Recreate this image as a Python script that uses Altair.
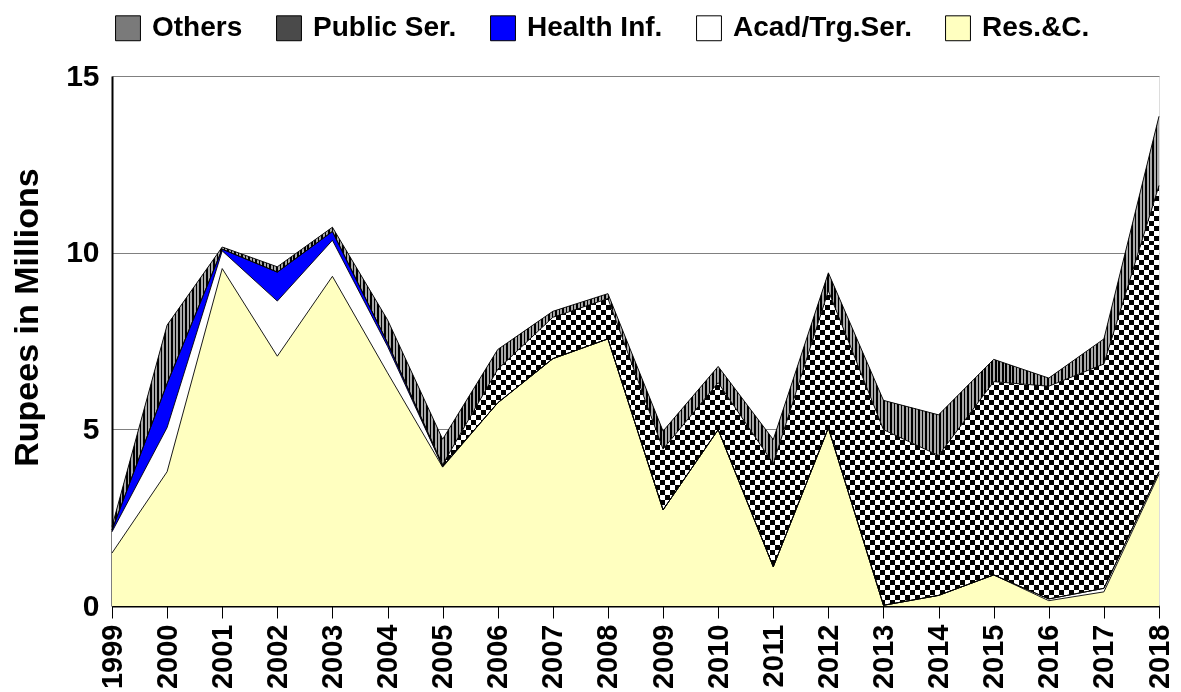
import altair as alt
import pandas as pd

years = list(range(1999, 2019))
series_names = ["Others", "Public Ser.", "Health Inf.", "Acad/Trg.Ser.", "Res.&C."]
res_c = [1.5, 3.8, 9.55, 7.07, 9.33, 6.6, 3.93, 5.75, 7.0, 7.56, 2.72, 4.99, 1.11, 5.04, 0.02, 0.3, 0.88, 0.15, 0.4, 3.73]
acad = [0.6, 1.25, 0.5, 1.56, 1.02, 0.75, 0.02, 0, 0, 0, 0, 0, 0, 0, 0, 0, 0, 0.05, 0.1, 0.07]
health = [0.05, 1.25, 0.05, 0.82, 0.25, 0.1, 0, 0, 0, 0, 0, 0, 0, 0, 0, 0, 0, 0, 0, 0]
public = [0, 0, 0, 0, 0, 0, 0.05, 0.95, 1.17, 1.14, 1.72, 1.33, 2.92, 3.88, 4.97, 3.96, 5.47, 6.02, 6.35, 8.1]
others = [0.1, 1.65, 0.06, 0.15, 0.12, 0.65, 0.72, 0.56, 0.17, 0.14, 0.51, 0.46, 0.68, 0.51, 0.83, 1.15, 0.63, 0.23, 0.71, 1.96]
y_ticks = [0, 5, 10, 15]

stack_values = {"Res.&C.": res_c, "Acad/Trg.Ser.": acad, "Health Inf.": health,
                "Public Ser.": public, "Others": others}
stack_order = ["Res.&C.", "Acad/Trg.Ser.", "Health Inf.", "Public Ser.", "Others"]

rows = []
for k, name in enumerate(stack_order):
    for y, v in zip(years, stack_values[name]):
        rows.append({"year": y, "series": name, "value": v, "order": k})
df = pd.DataFrame(rows)

FONT = "Liberation Sans"


def stripes(c1, c2, n, frac, horizontal):
    stops = []
    for i in range(n):
        a = round(i / n, 6)
        m = round((i + frac) / n, 6)
        b = round((i + 1) / n, 6)
        stops += [{"offset": a, "color": c1}, {"offset": m, "color": c1},
                  {"offset": m, "color": c2}, {"offset": b, "color": c2}]
    return {"gradient": "linear", "stops": stops, "x1": 0, "y1": 0,
            "x2": 1 if horizontal else 0, "y2": 0 if horizontal else 1}


base = alt.Chart(df).transform_stack(
    stack="value", groupby=["year"], as_=["y0", "y1"],
    sort=[alt.SortField("order", "ascending")]
)

x_enc = alt.X("year:O", scale=alt.Scale(padding=0), title=None,
              axis=alt.Axis(labelAngle=-90, labelFont=FONT, labelFontWeight="bold",
                            labelFontSize=29, labelColor="black", labelPadding=6,
                            tickSize=12, tickColor="black", tickWidth=1,
                            domainColor="black", domainWidth=2, grid=False,
                            labelAlign="right", labelBaseline="middle"))
y_enc = alt.Y("y1:Q", scale=alt.Scale(domain=[0, 15], nice=False, zero=True),
              title="Rupees in Millions",
              axis=alt.Axis(values=y_ticks, labelFont=FONT, labelFontWeight="bold",
                            labelFontSize=30, labelColor="black", labelPadding=13,
                            ticks=False, domainColor="black", domainWidth=2,
                            grid=True, gridColor="#808080", gridWidth=1,
                            titleFont=FONT, titleFontWeight="bold", titleFontSize=34,
                            titleColor="black", titlePadding=21, titleY=241))

areas = base.mark_area(opacity=1, stroke=None).encode(
    x=x_enc, y=y_enc, y2="y0:Q",
    color=alt.Color("series:N",
                    scale=alt.Scale(domain=series_names,
                                    range=["#7a7a7a", "#4a4a4a", "#0000ff", "#ffffff", "#ffffc0"]),
                    legend=alt.Legend(orient="none", legendX=2, legendY=-62,
                                      direction="horizontal", title=None,
                                      symbolType="square", symbolSize=620,
                                      symbolStrokeColor="black", symbolStrokeWidth=1,
                                      symbolOpacity=1,
                                      labelFont=FONT, labelFontWeight="bold",
                                      labelFontSize=28, labelColor="black",
                                      labelOffset=10, columnPadding=31, labelLimit=400)),
    order=alt.Order("order:Q"),
)

others_layer = base.transform_filter(alt.datum.series == "Others").mark_area(
    fill=stripes("#000000", "#a8a8a8", 300, 0.45, True), opacity=1
).encode(x=x_enc, y=y_enc, y2="y0:Q")

public_a = base.transform_filter(alt.datum.series == "Public Ser.").mark_area(
    fill=stripes("#000000", "#ffffff", 42, 0.5, False), opacity=1
).encode(x=x_enc, y=y_enc, y2="y0:Q")

public_b = base.transform_filter(alt.datum.series == "Public Ser.").mark_area(
    fill=stripes("#ffffff", "#000000", 105, 0.5, True), opacity=1, blend="difference"
).encode(x=x_enc, y=y_enc, y2="y0:Q")

lines = base.mark_line(color="black", strokeWidth=0.9).encode(
    x=x_enc, y=y_enc, detail="series:N"
)

chart = alt.layer(areas, others_layer, public_a, public_b, lines).properties(
    width=1047, height=530,
    autosize=alt.AutoSizeParams(type="none"),
    padding={"left": 104, "top": 68, "right": 14, "bottom": 86},
).configure_view(stroke="#808080", strokeWidth=1).configure(background="white")

chart.save("out.html", embed_options={"renderer": "svg", "actions": False})
